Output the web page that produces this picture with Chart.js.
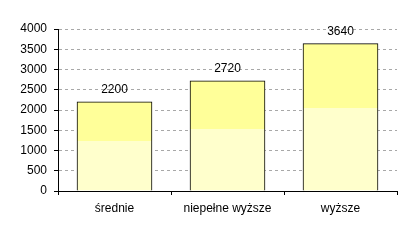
<!DOCTYPE html>
<html>
<head>
<meta charset="utf-8">
<script src="https://cdn.jsdelivr.net/npm/chart.js@4/dist/chart.umd.min.js"></script>
<style>
  html, body { margin: 0; padding: 0; background: #fff; }
  #wrap { width: 415px; height: 246px; }
</style>
</head>
<body>
<div id="wrap"><canvas id="myChart" width="415" height="246"></canvas></div>
<script>
const categories = ["średnie", "niepełne wyższe", "wyższe"];
const values = [2200, 2720, 3640];
const yTicks = [0, 500, 1000, 1500, 2000, 2500, 3000, 3500, 4000];

const FONT = "'Liberation Sans', Arial, sans-serif";

// two-tone fill like the original: lighter lower part
function barFill(context) {
  const chart = context.chart;
  const y = chart.scales && chart.scales.y;
  if (!y || context.raw === undefined) return "#FFFF99";
  const top = y.getPixelForValue(context.raw);
  const base = y.getPixelForValue(0);
  if (!isFinite(top) || !isFinite(base) || top === base) return "#FFFF99";
  const g = chart.ctx.createLinearGradient(0, top, 0, base);
  g.addColorStop(0, "#FFFF99");
  g.addColorStop(0.44, "#FFFF99");
  g.addColorStop(0.44, "#FFFFCC");
  g.addColorStop(1, "#FFFFCC");
  return g;
}

const valueLabels = {
  id: "valueLabels",
  afterDatasetsDraw(chart) {
    const ctx = chart.ctx;
    const meta = chart.getDatasetMeta(0);
    ctx.save();
    ctx.font = "12px " + FONT;
    ctx.fillStyle = "#000";
    ctx.textAlign = "center";
    ctx.textBaseline = "bottom";
    meta.data.forEach((bar, i) => {
      ctx.fillText(String(values[i]), bar.x, bar.y - 6);
    });
    ctx.restore();
  }
};

const ctx = document.getElementById("myChart").getContext("2d");
const chart = new Chart(ctx, {
  type: "bar",
  data: {
    labels: categories,
    datasets: [{
      data: values,
      backgroundColor: barFill,
      borderColor: "#000000",
      borderWidth: 1,
      borderSkipped: "bottom",
      barThickness: 75
    }]
  },
  options: {
    responsive: false,
    animation: false,
    layout: { padding: { left: 0, right: 18, top: 29, bottom: 0 } },
    plugins: {
      legend: { display: false },
      tooltip: { enabled: false }
    },
    scales: {
      x: {
        grid: {
          offset: true,
          drawOnChartArea: false,
          drawTicks: true,
          tickLength: 4,
          tickColor: "#000"
        },
        border: { color: "#000", width: 1, z: 1 },
        ticks: {
          color: "#000",
          font: { family: FONT, size: 12 },
          padding: 6,
          maxRotation: 0
        },
        afterFit(scale) { scale.height = 55; }
      },
      y: {
        min: 0,
        max: 4000,
        afterBuildTicks(scale) { scale.ticks = yTicks.map(v => ({ value: v })); },
        grid: {
          color: (c) => c.tick && c.tick.value === 0 ? "rgba(0,0,0,0)" : "#A8A8A8",
          tickLength: 4,
          tickColor: "#000",
          tickBorderDash: []
        },
        border: { color: "#000", width: 1, dash: [3, 3] },
        ticks: {
          color: "#000",
          font: { family: FONT, size: 12 },
          padding: 7,
          callback: (v) => String(v)
        },
        afterFit(scale) { scale.width = 58; }
      }
    }
  },
  plugins: [valueLabels]
});
chart.update();
</script>
</body>
</html>
